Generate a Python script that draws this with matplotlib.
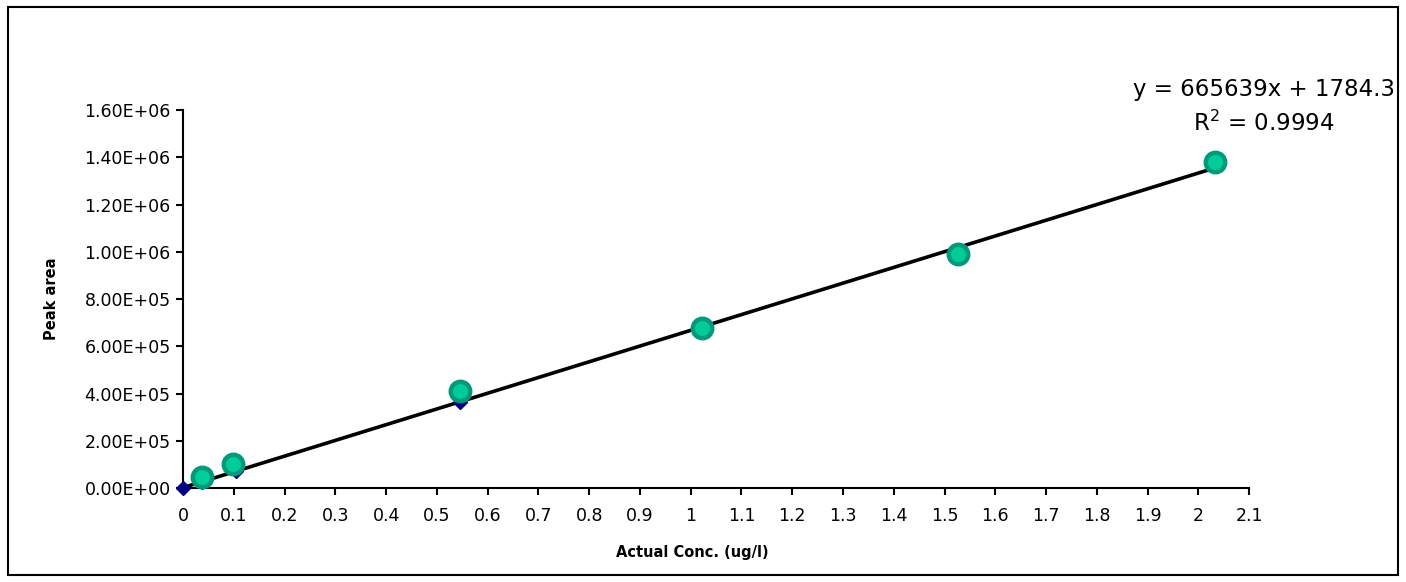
import numpy as np
import matplotlib
matplotlib.use('Agg')
import matplotlib.pyplot as plt
from matplotlib.patches import Rectangle
from matplotlib.ticker import FuncFormatter, MultipleLocator

# calibration data
conc_a = [0.0, 0.038, 0.105, 0.545, 1.022, 1.527, 2.033]          # diamonds (trendline series)
area_a = [0.0, 2.6e4, 7.0e4, 3.62e5, 6.85e5, 0.995e6, 1.37e6]
conc_b = [0.038, 0.098, 0.545, 1.022, 1.527, 2.033]               # circles
area_b = [4.8e4, 1.0e5, 4.1e5, 6.76e5, 9.9e5, 1.379e6]
slope, intercept, r2 = 665639, 1784.3, 0.9994

plt.rcParams['font.family'] = 'DejaVu Sans'
plt.rcParams['mathtext.fontset'] = 'dejavusans'

fig = plt.figure(figsize=(14.06, 5.82), dpi=100)
ax = fig.add_axes([0.1302, 0.1615, 0.7582, 0.6495])

# trendline over the first series range
xl = np.array([min(conc_a), max(conc_a)])
ax.plot(xl, slope * xl + intercept, color='black', lw=2.6, zorder=2)
ax.plot(conc_a, area_a, 'D', color='#000080', ms=7, zorder=3, clip_on=False)
ax.plot(conc_b, area_b, 'o', mfc='#00CC99', mec='#00997A', mew=3.2, ms=14, zorder=4, clip_on=False)

ax.set_xlim(0, 2.1)
ax.set_ylim(0, 1.6e6)
ax.xaxis.set_major_locator(MultipleLocator(0.1))
ax.yaxis.set_major_locator(MultipleLocator(2e5))
ax.xaxis.set_major_formatter(FuncFormatter(lambda v, p: '%g' % round(v, 1)))
ax.yaxis.set_major_formatter(FuncFormatter(lambda v, p: ('%.2E' % v)))

for s in ['top', 'right']:
    ax.spines[s].set_visible(False)
for s in ['left', 'bottom']:
    ax.spines[s].set_linewidth(1.5)
ax.tick_params(axis='both', direction='out', length=5, width=1.5, labelsize=12.5)
ax.tick_params(axis='x', pad=9)
ax.tick_params(axis='y', pad=4)

ax.set_xlabel('Actual Conc. (ug/l)', fontsize=10.5, fontweight='bold')
ax.set_ylabel('Peak area', fontsize=10.5, fontweight='bold')
ax.xaxis.set_label_coords(0.4775, -0.151)
ax.yaxis.set_label_coords(-0.116, 0.5)

fig.text(0.899, 0.847, 'y = %dx + %.1f' % (slope, intercept), fontsize=16.5, ha='center', va='center')
fig.text(0.899, 0.789, 'R$^2$ = %.4f' % r2, fontsize=16.5, ha='center', va='center')

fig.patches.append(Rectangle((0.006, 0.012), 0.988, 0.976, transform=fig.transFigure,
                             fill=False, edgecolor='black', lw=1.5))

plt.savefig('out.png', dpi=100)
